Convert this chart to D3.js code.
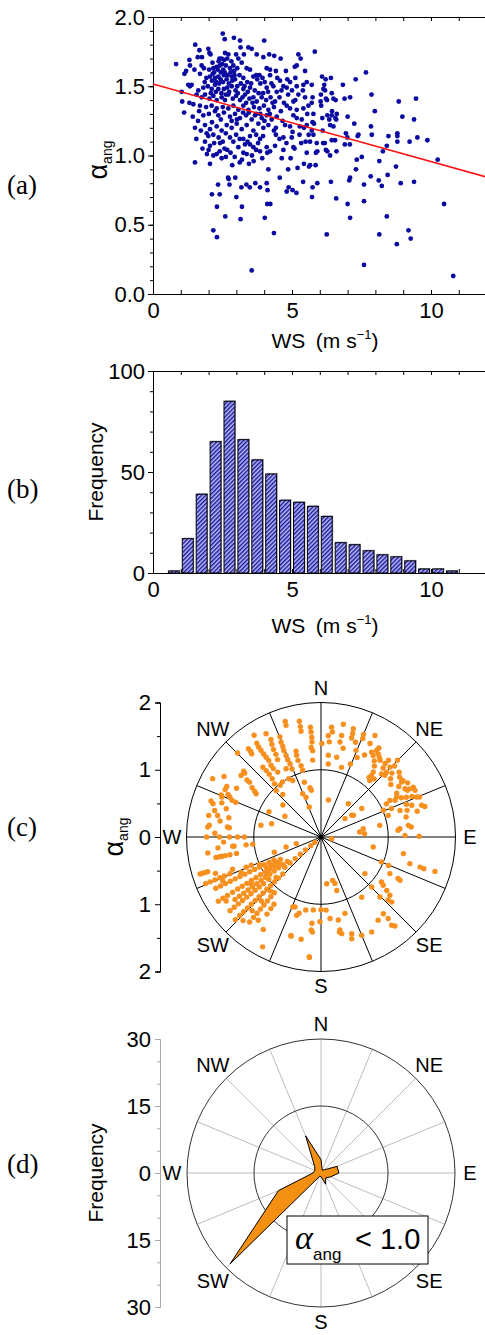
<!DOCTYPE html>
<html>
<head>
<meta charset="utf-8">
<script src="https://cdn.jsdelivr.net/npm/d3@7"></script>
<style>
  body { margin: 0; background: #fff; }
  text { font-family: "Liberation Sans", Arial, sans-serif; fill: #000; }
  .serif { font-family: "Liberation Serif", "Times New Roman", serif; }
</style>
</head>
<body>
<svg id="fig" width="485" height="1335"></svg>
<script>
// ---- (a) alpha_ang vs wind speed ----
const wsAlpha = [
  [2.51,1.88],[2.58,1.84],[2.91,1.85],[3.13,1.83],[3.15,1.78],[3.43,1.78],[3.55,1.77],[4.0,1.83],[1.52,1.80],[1.67,1.76],[1.99,1.77],[2.03,1.74],[0.83,1.66],
  [2.07,1.73],[1.76,1.71],[1.61,1.71],[1.31,1.69],[1.33,1.65],[1.49,1.62],[1.75,1.65],[1.83,1.63],[2.39,1.70],[2.47,1.70],[2.59,1.74],[2.71,1.73],[2.67,1.70],[2.99,1.73],[3.07,1.70],[3.27,1.73],[3.73,1.73],[3.97,1.71],[4.18,1.73],[4.36,1.72],[4.59,1.70],[5.23,1.73],[5.31,1.70],[5.17,1.65],[5.47,1.61],[2.17,1.63],[2.29,1.64],[2.41,1.65],[2.53,1.62],[2.77,1.63],[2.89,1.65],[3.03,1.63],[3.19,1.67],[3.37,1.63],[3.49,1.62],[4.09,1.63],[4.21,1.62],[4.42,1.61],[4.78,1.61],[5.10,1.64],
  [1.13,1.59],[1.19,1.61],[1.69,1.59],[2.05,1.57],[2.15,1.59],[2.23,1.56],[2.35,1.57],[2.43,1.55],[2.55,1.58],[2.65,1.55],[2.83,1.57],[2.95,1.55],[3.11,1.58],[3.25,1.56],[3.39,1.53],[3.61,1.57],[3.71,1.58],[3.83,1.58],[3.75,1.55],[3.94,1.56],[4.21,1.58],[4.47,1.56],[4.57,1.54],[4.83,1.55],[4.93,1.53],[5.12,1.56],[5.53,1.53],[5.41,1.51],[5.17,1.50],[4.69,1.50],[4.81,1.49],[4.33,1.50],[4.09,1.49],[3.49,1.49],[3.25,1.48],[3.03,1.50],[2.83,1.50],[2.67,1.49],[2.55,1.48],[2.35,1.48],[2.23,1.51],[2.11,1.48],[1.27,1.51],[1.33,1.50],[1.39,1.51],[1.63,1.47],[1.81,1.49],[1.03,1.46],
  [1.57,1.44],[1.75,1.42],[1.87,1.44],[2.03,1.41],[2.17,1.43],[2.29,1.40],[2.47,1.42],[2.59,1.40],[2.71,1.44],[2.87,1.41],[2.99,1.43],[3.13,1.40],[3.31,1.44],[3.47,1.41],[3.61,1.42],[3.73,1.39],[3.91,1.42],[4.07,1.40],[4.23,1.42],[4.39,1.39],[4.55,1.42],[4.71,1.38],[5.05,1.39],[5.23,1.44],[5.47,1.42],[1.05,1.39],[1.31,1.38],[1.45,1.37],[1.69,1.36],[1.91,1.35],[2.11,1.36],[2.29,1.34],[2.51,1.35],[2.71,1.34],[2.89,1.36],[3.07,1.33],[3.25,1.36],[3.43,1.33],[3.63,1.35],[3.83,1.34],[3.99,1.36],[4.15,1.33],[4.35,1.35],[4.81,1.36],[4.93,1.34],[5.17,1.33],[5.41,1.34],[5.59,1.36],[1.12,1.31],[1.43,1.28],
  [1.81,1.29],[2.01,1.30],[2.23,1.32],[2.35,1.29],[2.55,1.31],[2.77,1.28],[2.95,1.30],[3.13,1.27],[3.35,1.29],[3.55,1.26],[3.71,1.30],[3.91,1.27],[4.09,1.29],[4.27,1.26],[4.45,1.28],[4.66,1.25],[5.05,1.29],[5.17,1.27],[5.35,1.26],[1.51,1.20],[1.87,1.22],[2.05,1.19],[2.29,1.21],[2.47,1.18],[2.65,1.22],[2.83,1.20],[3.01,1.23],[3.19,1.19],[3.37,1.22],[3.61,1.18],[3.79,1.23],[3.97,1.20],[4.15,1.22],[4.35,1.18],[4.42,1.20],[4.93,1.21],[5.43,1.20],[5.53,1.22],
  [1.99,1.14],[2.17,1.15],[2.77,1.13],[2.99,1.15],[3.25,1.12],[3.49,1.14],[3.71,1.15],[3.85,1.12],[4.42,1.15],[4.69,1.13],[4.99,1.13],[5.27,1.15],[1.87,1.10],[2.05,1.07],[2.41,1.09],[2.51,1.10],[2.89,1.10],[3.07,1.06],[3.31,1.08],[3.49,1.08],[3.61,1.06],[4.09,1.06],[4.21,1.03],[4.39,1.07],[5.05,1.06],[2.00,1.04],[2.29,1.01],[2.67,1.04],[2.79,1.02],[3.25,1.02],[3.37,1.01],[3.71,1.04],[3.85,1.03],[4.11,1.02],[4.69,1.04],[5.09,1.05],[5.53,1.02],[2.47,0.98],[4.63,0.98],
  [2.02,1.62],[2.12,1.54],[2.20,1.60],[2.27,1.53],[2.33,1.62],[2.38,1.52],[2.44,1.60],[2.49,1.66],[2.52,1.53],[2.58,1.60],[2.62,1.65],[2.68,1.58],[2.73,1.52],[2.79,1.60],[2.85,1.54],[2.92,1.61],[2.97,1.47],[2.26,1.46],[2.46,1.45],[2.62,1.44],[2.14,1.67],[2.36,1.68],[2.56,1.69],[2.82,1.68],[1.92,1.56],[1.97,1.50],[2.08,1.45],[1.86,1.53],[2.74,1.46],[2.93,1.58],
  [3.05,1.45],[3.16,1.52],[3.22,1.42],[3.29,1.50],[3.35,1.38],[3.41,1.46],[3.53,1.52],[3.58,1.38],[3.66,1.47],[3.80,1.45],[3.86,1.52],[3.96,1.45],[4.02,1.53],[4.14,1.46],[4.26,1.52],[4.30,1.38],[4.45,1.46],[3.45,1.31],[3.67,1.29],[3.86,1.30],[4.01,1.25],[4.20,1.30],[3.24,1.31],[3.02,1.26],[2.83,1.25],
  [1.62,1.25],[1.72,1.18],[1.78,1.05],[1.93,1.16],[2.12,1.24],[2.20,1.09],[2.36,1.13],[2.44,1.26],[1.66,1.32],[1.94,1.01],[2.57,1.05],[2.62,1.16],[1.56,1.12],[2.17,1.00],[2.40,1.03],
  [4.60,1.32],[4.75,1.22],[4.86,1.44],[5.00,1.47],[5.12,1.40],[5.28,1.21],[5.39,1.47],[5.55,1.30],[4.55,1.12],[4.80,1.09],[5.33,1.09],[5.60,1.15],[4.62,1.47],[5.02,1.17],[5.49,1.10],
  [2.62,0.99],[2.94,0.99],[3.12,1.12],[3.40,1.10],[3.56,1.00],[3.78,1.09],[3.93,0.98],[3.96,1.14],[3.12,0.95],[3.62,0.96],
  [1.51,0.95],[2.05,0.94],[2.85,0.93],[3.20,0.97],[3.45,0.94],[4.15,0.90],[4.95,0.98],[4.86,0.90],[5.20,0.91],[5.43,0.94],[5.61,0.92],[2.70,0.84],[2.72,0.83],[2.96,0.84],[3.68,0.80],[4.56,0.84],[5.40,0.81],[2.34,0.79],[2.75,0.79],[3.18,0.77],[3.36,0.79],[3.48,0.77],[3.85,0.77],[4.09,0.80],[4.12,0.75],[4.88,0.77],[4.81,0.74],[5.02,0.75],[5.16,0.73],[2.12,0.72],[2.40,0.72],[3.0,0.70],[4.11,0.65],[4.22,0.65],[2.30,0.63],[3.20,0.63],[2.60,0.56],[3.15,0.54],[4.02,0.55],[2.17,0.46],[2.30,0.41],[4.35,0.44],[3.55,0.17],
  [5.82,1.75],[5.71,1.51],[5.74,1.42],[5.71,1.38],[5.77,1.30],[5.74,1.24],[5.79,1.23],[5.71,1.18],[5.77,1.15],[5.89,1.09],[5.65,1.10],[5.91,1.03],[5.86,1.02],[5.65,0.93],[5.85,0.93],[5.91,0.80],[5.74,0.77],[5.72,0.70],
  [6.08,1.57],[6.21,1.55],[6.40,1.56],[6.16,1.51],[6.13,1.48],[6.19,1.47],[6.04,1.44],[6.03,1.39],[6.05,1.36],[6.22,1.41],[6.26,1.40],[6.43,1.45],[6.49,1.41],[6.57,1.40],[6.83,1.51],[6.89,1.41],[7.09,1.42],[7.29,1.55],[7.66,1.60],[7.86,1.44],[7.98,1.32],[7.84,1.21],[7.87,1.15],[7.36,1.14],[7.39,1.15],[7.24,1.23],[7.0,1.28],[6.44,1.32],[6.27,1.29],[6.61,1.30],[6.56,1.27],[6.59,1.26],[6.43,1.29],[6.34,1.26],[6.37,1.22],[6.49,1.21],[6.09,1.27],[6.10,1.18],[6.43,1.11],[6.55,1.11],[6.12,1.09],[6.18,1.09],[6.27,1.03],[6.22,1.04],[6.37,1.00],[6.60,1.03],[6.94,1.16],[6.99,1.13],[6.90,1.08],[7.08,1.08],[7.33,0.97],[7.51,0.99],[7.30,0.90],[7.09,0.84],[7.06,0.82],[7.59,0.79],[7.83,0.85],[8.12,0.82],[8.23,0.78],[8.14,0.96],[8.27,1.03],[8.41,1.07],[8.47,1.14],[8.79,1.16],[8.79,1.14],[8.79,1.10],[9.23,1.10],[9.51,1.13],[9.87,1.11],[8.97,1.28],[9.39,1.26],[8.84,1.39],[9.46,1.41],[8.44,0.86],[8.74,0.92],[8.91,0.80],[9.39,0.81],[10.24,0.97],
  [6.40,0.81],[6.59,0.69],[7.0,0.65],[7.09,0.55],[7.59,0.67],[8.41,0.56],[10.47,0.65],[6.25,0.43],[8.14,0.43],[9.19,0.46],[9.27,0.40],[8.77,0.36],[7.59,0.21],[10.80,0.13]
];
const fitIntercept = 1.516;
const fitSlope = -0.056;

// ---- (b) histogram of wind speed, 0.5 m/s bins ----
const wsBins = [0.5,1.0,1.5,2.0,2.5,3.0,3.5,4.0,4.5,5.0,5.5,6.0,6.5,7.0,7.5,8.0,8.5,9.0,9.5,10.0,10.5];
const wsFreq = [1,17,39,65,85,66,56,49,36,35,33,28,15,14,11,9,8,6,2,2,1];

// ---- (c) alpha_ang against wind direction (deg from N, alpha) ----
const dirAlpha = [
  [5.5,1.64],[6.2,1.57],[11.2,1.71],[11.5,1.54],[11.3,1.44],[16.6,1.68],[17,1.61],[17.2,1.54],[22.5,1.65],[23,1.59],[28,1.71],[4.1,1.51],[5,1.42],[5.1,1.22],[11.1,1.21],[5.7,1.09],[16.4,1.08],[22,1.17],[22,1.39],[24.4,1.30],[27.7,1.57],[0.5,1.39],[14,1.36],[20,1.50],[28,1.38],[33,1.58],
  [30.8,1.47],[32.6,1.44],[32.7,1.53],[34.5,1.50],[36.1,1.47],[37.6,1.44],[41.1,1.45],[41.3,1.52],[44.6,1.46],[46,1.52],[45.3,1.37],[46,1.32],[43.8,1.30],[42.4,1.17],[40.8,1.11],[38.9,1.14],[39.4,1.18],[38.8,1.24],[44.9,1.61],[35,1.38],[37,1.32],[42,1.38],
  [50.3,1.51],[52.8,1.47],[55.7,1.45],[55.5,1.48],[60.1,1.44],[61.6,1.46],[61.5,1.50],[61.6,1.56],[63.6,1.56],[67.3,1.54],[67.9,1.58],[72.5,1.57],[73.6,1.61],[62.1,1.27],[63.6,1.23],[62,1.16],[63.1,1.09],[66.8,1.01],[68,1.13],[71.4,1.24],[72.8,1.34],[70.7,1.43],
  [48,1.42],[50,1.35],[53,1.30],[57,1.38],[58,1.52],[65,1.40],[66,1.48],[69,1.36],[64,1.33],[75,1.48],[60,1.30],
  [76.8,1.30],[82.4,1.31],[83.7,1.35],[84,1.18],[85,1.15],[88.9,1.25],[89.6,1.46],[72.2,1.05],[78.8,0.89],[82.7,0.58],[78.9,0.64],[85.7,0.65],[100.8,0.79],[55.1,0.74],[56.2,0.58],[39.4,0.64],[52.6,0.45],[11.3,0.56],[99,0.16],[54.8,0.56],
  [112.4,0.97],[112.8,1.09],[118,1.16],[118.3,1.30],[118.7,1.34],[101.4,1.25],[106.7,1.38],[106.9,1.54],[107.1,1.60],[106.8,1.77],[126.6,1.12],[127.8,1.17],[129.1,1.26],[130.2,1.34],[133.2,1.37],[132.6,1.43],[140.9,1.47],[140.5,1.57],[141.3,1.68],[129.8,0.85],[134.6,1.06],[135.5,1.25],[145.9,1.08],[140.3,1.72],
  [173,0.70],[163.3,0.72],[163.6,0.83],[176,1.09],[180.7,1.26],[173.7,1.22],[168.2,1.26],[162.6,1.19],[168.5,1.41],[167.9,1.47],[162.4,1.51],[163.2,1.58],[157.5,1.58],[151.9,1.60],[145.5,1.50],[169,1.44],[165,0.67],
  [185.5,1.80],[196.8,1.54],[191,1.55],[185.2,1.42],[180,1.08],[186,1.09],[191.8,1.11],[197.3,1.22],[200.4,1.11],[202,1.12],[196,1.18],[197,1.53],[186,1.39],[186,1.29],[185.6,1.79],[208,1.85],
  [212,1.62],[215,1.40],[215,1.30],[215,1.22],[217,1.55],
  [220,1.65],[220,1.56],[220,1.48],[220,1.40],[220,1.32],[220,1.24],[220,1.16],[220,1.08],
  [223,1.70],[223,1.50],[223,1.30],[223,1.10],
  [226,1.77],[226,1.68],[226,1.60],[226,1.52],[226,1.44],[226,1.36],[226,1.28],[226,1.20],[226,1.12],[226,1.04],[226,0.96],[226,0.88],[226,0.79],
  [228,0.90],[230,0.70],[230,0.60],[230,0.50],[230,0.40],[230,0.30],[230,0.20],[230,0.12],
  [231,1.74],[231,1.66],[231,1.58],[231,1.50],[231,1.42],[231,1.34],[231,1.26],[231,1.18],[231,1.10],[231,1.00],
  [234,1.58],[234,1.50],[234,1.42],[234,1.34],[234,1.26],[234,1.18],[234,1.10],[234,1.02],[234,0.94],[234,0.86],[234,0.78],[234,0.70],[234,0.62],
  [236,1.70],[236,1.25],[236,0.95],
  [238,1.80],[238,1.72],[238,1.64],[238,1.55],[238,1.46],[238,1.38],[238,1.30],[238,1.22],[238,1.14],[238,1.06],[238,0.98],[238,0.90],[238,0.82],[238,0.74],
  [241,0.93],[241,0.85],[241,0.77],[241,0.69],
  [244,1.74],[244,1.66],[244,1.58],[244,1.50],[244,1.42],[244,1.34],[244,1.26],[244,1.18],[244,1.10],[244,1.02],[244,0.94],[244,0.86],[244,0.78],
  [246,1.60],[246,1.30],[246,1.00],
  [248,1.85],[248,1.78],[248,1.70],[248,1.62],[248,1.55],[248,1.46],[248,1.20],[248,1.12],
  [250,1.40],[251,1.66],[252,0.73],[254,0.54],[255,0.38],
  [253,1.88],[253,1.84],[253,1.80],[253,1.76],
  [259,1.59],[259,1.54],[259,1.50],[259,1.45],[259,1.38],[259,1.28],[262,1.70],
  [264,1.54],[264,1.32],[264,1.30],[264,1.12],[264,1.02],[267,1.45],
  [270,1.70],[270,1.51],[270,1.36],[270,1.24],[270,1.14],[272,1.58],
  [275,1.69],[276,1.67],[280.9,1.70],[276.1,1.40],[275.8,1.37],[281.8,1.40],[286.6,1.47],[281.8,1.57],[284,1.63],[287.1,1.68],[288.1,1.72],[298.3,1.83],[281,0.91],[285,0.76],[279,1.52],[289,1.56],
  [292,1.59],[292.9,1.61],[292.2,1.37],[292.4,1.43],[293.7,1.48],[294.6,1.52],[296.3,1.59],[298.2,1.59],[296,0.86],[300,0.62],[300,1.45],[302,1.70],
  [303.7,1.16],[304.6,1.20],[305.6,1.26],[307.5,1.34],[307.6,1.39],[307.6,1.50],[309.9,1.48],[310.4,1.51],[310,0.74],[315.2,1.76],
  [316,0.96],[318,0.85],[318.8,1.05],[320,1.13],[320.5,1.21],[320.5,1.28],[320.2,1.35],[320.2,1.61],[320.6,1.65],[320.6,1.70],[321.8,0.98],
  [325.1,1.0],[325.1,1.24],[325.1,1.30],[325.7,1.38],[325.5,1.44],[325.3,1.50],[325.3,1.57],[325.3,1.63],[325.6,1.69],[326.7,1.81],[326.3,1.16],
  [330.7,1.32],[331.4,1.40],[331.5,1.48],[332.1,1.56],[332.8,1.63],[332,1.74],[332.9,1.14],[331,0.99],[333.4,0.94],
  [336.7,1.25],[336.8,1.32],[336.7,1.40],[337.1,1.46],[337.2,1.53],[337.7,1.61],[337.1,1.18],[337,1.10],[337.1,0.70],[339.4,0.63],[338.7,0.48],
  [342.6,1.74],[342.8,1.80],[343.8,1.33],[343.4,1.27],[343.3,1.19],[344.4,1.10],[344.6,1.03],[343.1,0.85],[347.4,0.75],[348.3,0.71],
  [349.4,1.75],[349.4,1.67],[349.3,1.60],[354.5,1.64],[354.6,1.57],[354.7,1.49],[354.6,1.42],[353.7,1.34],[354.5,1.29],[353.8,1.15]
];

// ---- (d) frequency rose for alpha_ang < 1.0, 16 directions ----
const roseDirs = ["N","NNE","NE","ENE","E","ESE","SE","SSE","S","SSW","SW","WSW","W","WNW","NW","NNW"];
const roseFreq = [3,0.7,1,3.9,4,2.3,1.5,2.7,0.8,0.8,28.8,10.3,1.8,1.5,2,9];

const compass = ["N","NE","E","SE","S","SW","W","NW"];

// ---------------------------------------------------------------
const svg = d3.select("#fig");
const FS = 22;

const defs = svg.append("defs");
const pat = defs.append("pattern").attr("id", "hatch")
    .attr("patternUnits", "userSpaceOnUse")
    .attr("width", 3).attr("height", 3)
    .attr("patternTransform", "rotate(45)");
pat.append("rect").attr("width", 3).attr("height", 3).attr("fill", "#c0c0ff");
pat.append("rect").attr("width", 1.5).attr("height", 3).attr("fill", "#1a1a9a");

function styleAxis(g, size) {
    g.attr("font-family", null).attr("font-size", null);
    g.selectAll("text").style("font-size", size + "px");
    g.selectAll("line, path").attr("stroke", "#000");
}

function panelLabel(txt, y) {
    svg.append("text").attr("class", "serif").attr("x", 7).attr("y", y)
        .style("font-size", "27px").text(txt);
}

function wsLabel(y) {
    let t = svg.append("text").attr("x", 325).attr("y", y)
        .attr("text-anchor", "middle").style("font-size", "21px");
    t.append("tspan").text("WS\u2002(m s");
    t.append("tspan").attr("dy", -9).style("font-size", "13px").text("\u22121");
    t.append("tspan").attr("dy", 9).text(")");
}

function alphaLabel(x, y) {
    let t = svg.append("text").attr("transform", `translate(${x},${y}) rotate(-90)`)
        .attr("text-anchor", "middle");
    t.append("tspan").style("font-size", "27px").text("\u03b1");
    t.append("tspan").attr("dy", 5).style("font-size", "14px").text("ang");
}

function freqLabel(x, y) {
    svg.append("text").attr("transform", `translate(${x},${y}) rotate(-90)`)
        .attr("text-anchor", "middle").style("font-size", "21px").text("Frequency");
}

function xAxes(g, x, yTop, yBot) {
    g.append("g").attr("transform", `translate(0,${yBot})`)
        .call(d3.axisBottom(x).tickValues(d3.range(0, 13)).tickSize(-4).tickSizeOuter(0).tickPadding(8)
            .tickFormat(d => d % 5 === 0 ? d : ""))
        .call(g => styleAxis(g, FS));
    g.append("g").attr("transform", `translate(0,${yTop})`)
        .call(d3.axisTop(x).tickValues(d3.range(0, 13)).tickSize(-4).tickSizeOuter(0).tickFormat(""))
        .call(g => styleAxis(g, FS));
}

// ================= (a) =================
const xA = d3.scaleLinear().domain([0, 12]).range([153, 486.6]);
const yA = d3.scaleLinear().domain([0, 2]).range([294, 17]);
const gA = svg.append("g");

gA.append("g").attr("transform", `translate(${xA(0)},0)`)
    .call(d3.axisLeft(yA).tickValues(d3.range(0, 2.001, 0.1)).tickSize(3).tickFormat(""))
    .call(g => styleAxis(g, FS));
gA.append("g").attr("transform", `translate(${xA(0)},0)`)
    .call(d3.axisLeft(yA).tickValues([0, 0.5, 1, 1.5, 2]).tickSize(5).tickSizeOuter(0).tickPadding(3)
        .tickFormat(d3.format(".1f")))
    .call(g => styleAxis(g, FS));
xAxes(gA, xA, yA(2), yA(0));

gA.selectAll("circle.pt").data(wsAlpha).enter().append("circle")
    .attr("class", "pt")
    .attr("cx", d => xA(d[0])).attr("cy", d => yA(d[1]))
    .attr("r", 2.4).attr("fill", "#0a0aa0");

const fitLine = d3.line().x(d => xA(d)).y(d => yA(fitIntercept + fitSlope * d));
gA.append("path").attr("d", fitLine([0, 12]))
    .attr("stroke", "#ff1010").attr("stroke-width", 1.6).attr("fill", "none");

panelLabel("(a)", 194);
alphaLabel(107, 160);
wsLabel(348);

// ================= (b) =================
const xB = d3.scaleLinear().domain([0, 12]).range([153, 486.6]);
const yB = d3.scaleLinear().domain([0, 100]).range([573, 371]);
const gB = svg.append("g");

gB.append("g").attr("transform", `translate(${xB(0)},0)`)
    .call(d3.axisLeft(yB).tickValues(d3.range(0, 101, 10)).tickSize(3).tickFormat(""))
    .call(g => styleAxis(g, FS));
gB.append("g").attr("transform", `translate(${xB(0)},0)`)
    .call(d3.axisLeft(yB).tickValues([0, 50, 100]).tickSize(5).tickSizeOuter(0).tickPadding(3))
    .call(g => styleAxis(g, FS));
xAxes(gB, xB, yB(100), yB(0));

const bars = gB.selectAll("g.bar").data(wsBins.map((b, i) => ({ b: b, f: wsFreq[i] })))
    .enter().append("g").attr("class", "bar");
bars.append("rect")
    .attr("x", d => xB(d.b) + 2.5).attr("y", d => yB(d.f) - 1)
    .attr("width", d => xB(d.b + 0.5) - xB(d.b) - 3).attr("height", d => yB(0) - yB(d.f))
    .attr("fill", "#9a9ab4");
bars.append("rect")
    .attr("x", d => xB(d.b) + 1.5).attr("y", d => yB(d.f))
    .attr("width", d => xB(d.b + 0.5) - xB(d.b) - 3).attr("height", d => yB(0) - yB(d.f))
    .attr("fill", "url(#hatch)").attr("stroke", "#000").attr("stroke-width", 1);

panelLabel("(b)", 498);
freqLabel(103, 472);
wsLabel(633);

// ================= polar helpers =================
function polarFrame(g, r, rMax, spokeColor, ringColor) {
    g.selectAll("line.spoke").data(d3.range(16)).enter().append("line")
        .attr("x1", 0).attr("y1", 0)
        .attr("x2", d => r(rMax) * Math.sin(d * Math.PI / 8))
        .attr("y2", d => -r(rMax) * Math.cos(d * Math.PI / 8))
        .attr("stroke", spokeColor).attr("stroke-width", 1);
    g.selectAll("circle.ring").data([rMax / 2, rMax]).enter().append("circle")
        .attr("r", d => r(d)).attr("fill", "none")
        .attr("stroke", ringColor).attr("stroke-width", 1);
    g.selectAll("text.cmp").data(compass).enter().append("text")
        .attr("x", (d, i) => (i % 2 ? 153 : 149) * Math.sin(i * Math.PI / 4))
        .attr("y", (d, i) => -(i % 2 ? 153 : 149) * Math.cos(i * Math.PI / 4))
        .attr("text-anchor", "middle").attr("dy", "0.36em")
        .style("font-size", "20px").text(d => d);
}

// ================= (c) =================
const cx = 321, cyC = 837;
const rC = d3.scaleLinear().domain([0, 2]).range([0, 134.5]);
const gC = svg.append("g").attr("transform", `translate(${cx},${cyC})`);
polarFrame(gC, rC, 2, "#000", "#000");
gC.selectAll("circle.pt").data(dirAlpha).enter().append("circle")
    .attr("class", "pt")
    .attr("cx", d => rC(d[1]) * Math.sin(d[0] * Math.PI / 180))
    .attr("cy", d => -rC(d[1]) * Math.cos(d[0] * Math.PI / 180))
    .attr("r", 2.7).attr("fill", "#f7901e");
gC.append("circle").attr("r", 2.5).attr("fill", "#000");

const yC = d3.scaleLinear().domain([-2, 2]).range([cyC + rC(2), cyC - rC(2)]);
svg.append("g").attr("transform", "translate(160,0)")
    .call(d3.axisLeft(yC).tickValues([-1.5, -0.5, 0.5, 1.5]).tickSize(3).tickFormat(""))
    .call(g => styleAxis(g, FS));
svg.append("g").attr("transform", "translate(160,0)")
    .call(d3.axisLeft(yC).tickValues([-2, -1, 0, 1, 2]).tickSize(5).tickSizeOuter(5).tickPadding(4)
        .tickFormat(d => Math.abs(d)))
    .call(g => styleAxis(g, FS));

panelLabel("(c)", 836);
alphaLabel(123, 837);

// ================= (d) =================
const cyD = 1173;
const rD = d3.scaleLinear().domain([0, 30]).range([0, 134]);
const gD = svg.append("g").attr("transform", `translate(${cx},${cyD})`);
polarFrame(gD, rD, 30, "#bdbdbd", "#333");

const rose = d3.lineRadial()
    .angle((d, i) => i * Math.PI / 8)
    .radius(d => rD(d))
    .curve(d3.curveLinearClosed);
gD.append("path").attr("d", rose(roseFreq))
    .attr("fill", "#f39012").attr("stroke", "#000").attr("stroke-width", 1)
    .attr("stroke-linejoin", "miter");

const yD = d3.scaleLinear().domain([-30, 30]).range([cyD + rD(30), cyD - rD(30)]);
svg.append("g").attr("transform", "translate(160,0)")
    .call(d3.axisLeft(yD).tickValues(d3.range(-30, 31, 5)).tickSize(3).tickFormat(""))
    .call(g => styleAxis(g, FS))
    .call(g => g.selectAll("line, path").attr("stroke", "#aaa"));
svg.append("g").attr("transform", "translate(160,0)")
    .call(d3.axisLeft(yD).tickValues([-30, -15, 0, 15, 30]).tickSize(5).tickSizeOuter(0).tickPadding(4)
        .tickFormat(d => Math.abs(d)))
    .call(g => styleAxis(g, FS))
    .call(g => g.selectAll("line, path").attr("stroke", "#aaa"));

// legend box
const lg = svg.append("g").attr("transform", "translate(287,1216)");
lg.append("rect").attr("width", 141).attr("height", 48)
    .attr("fill", "#fff").attr("stroke", "#000").attr("stroke-width", 1);
lg.append("text").attr("class", "serif").attr("x", 8).attr("y", 33)
    .style("font-size", "34px").style("font-style", "italic").text("\u03b1");
lg.append("text").attr("x", 26).attr("y", 44).style("font-size", "17px").text("ang");
lg.append("text").attr("x", 68).attr("y", 33).style("font-size", "29px").text("< 1.0");

panelLabel("(d)", 1173);
freqLabel(103, 1173);
</script>
</body>
</html>
